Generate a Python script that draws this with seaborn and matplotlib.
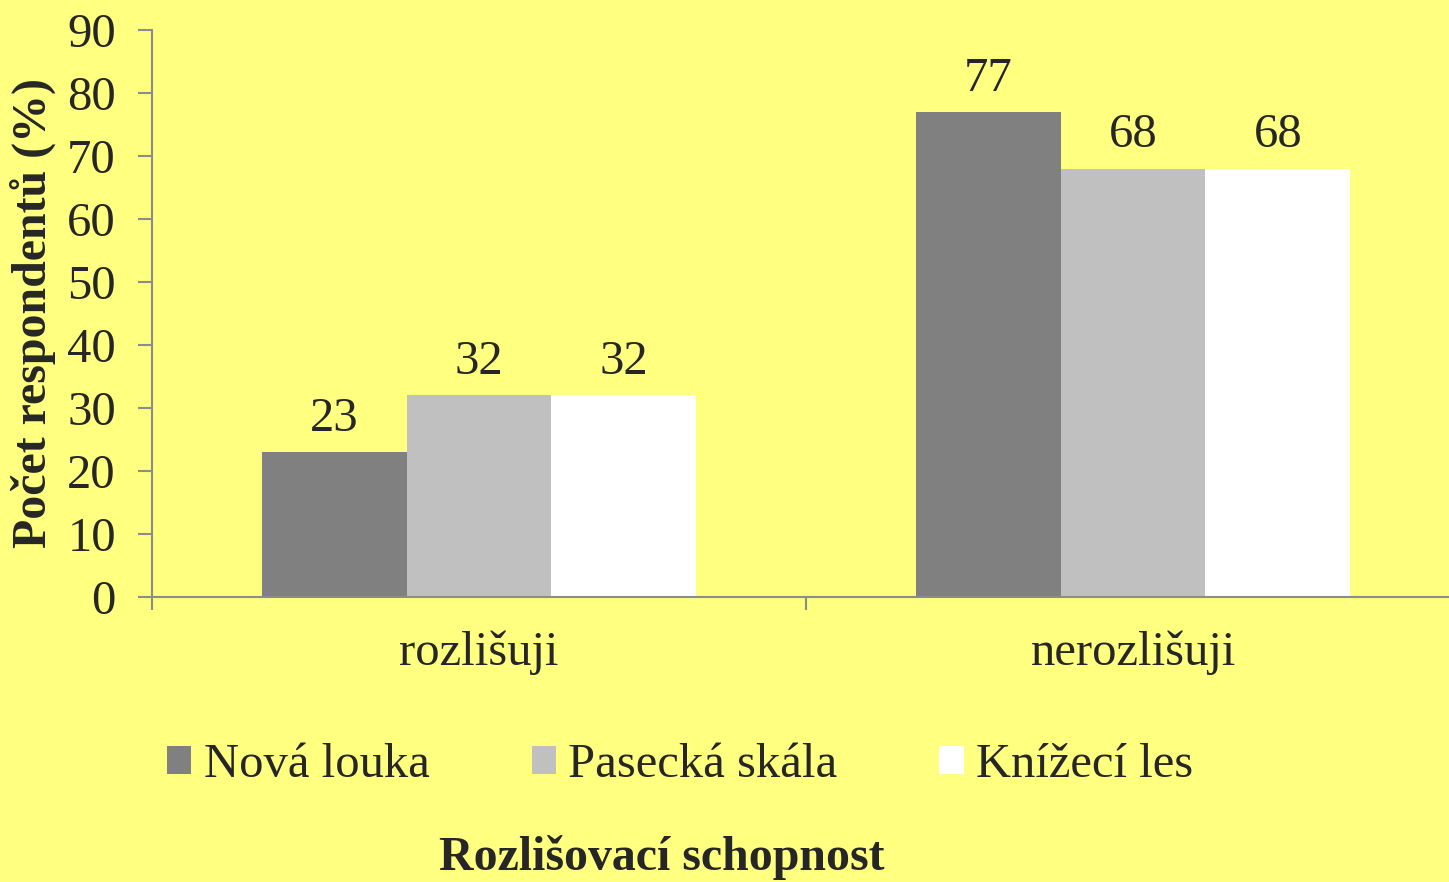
import pandas as pd
import seaborn as sns
import matplotlib.pyplot as plt
from matplotlib.patches import Rectangle

# Data
categories = ['rozlišuji', 'nerozlišuji']
sites = ['Nová louka', 'Pasecká skála', 'Knížecí les']
nova_louka = [23, 77]
pasecka_skala = [32, 68]
knizeci_les = [32, 68]

colors = ['#808080', '#c0c0c0', '#ffffff']
bg = '#ffff80'
spine_col = '#8c8c8c'

df = pd.DataFrame({
    'Kategorie': categories * 3,
    'Lokalita': [s for s in sites for _ in categories],
    'Procento': nova_louka + pasecka_skala + knizeci_les,
})

sns.set_style('white')
plt.rcParams['font.family'] = ['Liberation Serif', 'DejaVu Serif']

fig = plt.figure(figsize=(14.49, 8.82), dpi=100, facecolor=bg)
ax = fig.add_axes([152 / 1449, 285 / 882, 1308 / 1449, 567 / 882], facecolor=bg)

sns.barplot(data=df, x='Kategorie', y='Procento', hue='Lokalita',
            palette=colors, width=0.665, linewidth=0, saturation=1,
            gap=0, ax=ax, legend=False)

for c in ax.containers:
    ax.bar_label(c, fontsize=35, padding=8)

ax.set_xlim(-0.5, 1.5)
ax.set_ylim(0, 90)
ax.set_yticks(range(0, 91, 10))
ax.tick_params(axis='y', labelsize=35, length=10, width=1.5, color=spine_col,
               direction='out', left=True, pad=16)
ax.tick_params(axis='x', which='major', labelsize=35, length=0, pad=24)
ax.set_xticks([-0.5, 0.5, 1.5], minor=True)
ax.tick_params(axis='x', which='minor', length=9, width=1.5, color=spine_col,
               direction='out', bottom=True)

for side in ['top', 'right']:
    ax.spines[side].set_visible(False)
for side in ['left', 'bottom']:
    ax.spines[side].set_color(spine_col)
    ax.spines[side].set_linewidth(1.5)

ax.set_ylabel('Počet respondentů (%)', fontsize=34.5, fontweight='bold', labelpad=8)
ax.set_xlabel('Rozlišovací schopnost', fontsize=34.5, fontweight='bold')
ax.xaxis.set_label_coords(510 / 1308, -238 / 567)

handles = [Rectangle((0, 0), 1, 1, facecolor=c, edgecolor='none') for c in colors]
fig.legend(handles, sites, ncol=3, loc='center', bbox_to_anchor=(680 / 1449, 117 / 882),
           frameon=False, fontsize=35, handlelength=0.5, handleheight=0.5,
           handletextpad=0.25, columnspacing=2.1)

fig.savefig('out.png', dpi=100, facecolor=bg)
